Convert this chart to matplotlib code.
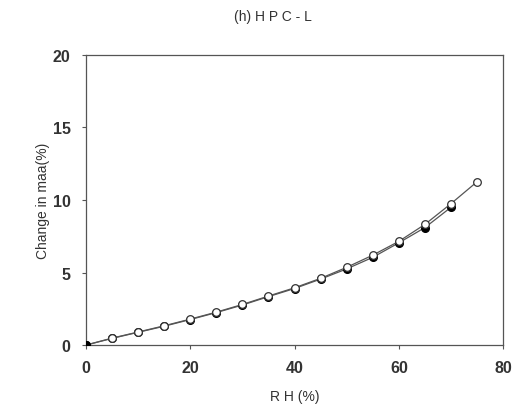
import matplotlib
matplotlib.use('Agg')
import matplotlib.pyplot as plt

plt.rcParams['font.family'] = ['Liberation Sans', 'DejaVu Sans']

# relative humidity steps
rh_open = [0, 5, 10, 15, 20, 25, 30, 35, 40, 45, 50, 55, 60, 65, 70, 75]
change_open = [0.0, 0.48, 0.9, 1.33, 1.79, 2.27, 2.8, 3.38, 3.95, 4.6,
               5.36, 6.2, 7.15, 8.32, 9.75, 11.26]

rh_filled = [0, 5, 10, 15, 20, 25, 30, 35, 40, 45, 50, 55, 60, 65, 70]
change_filled = [0.0, 0.46, 0.88, 1.3, 1.76, 2.24, 2.76, 3.34, 3.9, 4.55,
                 5.25, 6.05, 7.05, 8.1, 9.5]

fig = plt.figure(figsize=(5.14, 4.14), dpi=100)
ax = fig.add_axes([0.167, 0.164, 0.812, 0.701])

ax.plot(rh_filled, change_filled, '-', color='#555555', lw=0.9,
        marker='o', ms=5.5, mfc='black', mec='black', zorder=2)
ax.plot(rh_open, change_open, '-', color='#555555', lw=0.9,
        marker='o', ms=5.5, mfc='white', mec='#333333', mew=0.9, zorder=3)
# filled point at origin shows on top
ax.plot(rh_filled[:1], change_filled[:1], 'o', ms=5.5, color='black', zorder=4)

ax.set_xlim(0, 80)
ax.set_ylim(0, 20)
ax.set_xticks([0, 20, 40, 60, 80])
ax.set_yticks([0, 5, 10, 15, 20])

for s in ax.spines.values():
    s.set_color('#555555')
    s.set_linewidth(0.9)

ax.tick_params(direction='out', length=3, width=0.8, color='#555555',
               labelsize=11.5, pad=8)
for lab in ax.get_xticklabels() + ax.get_yticklabels():
    lab.set_fontweight('bold')
    lab.set_color('#333333')

ax.set_xlabel('R H (%)', fontsize=10, color='#333333', labelpad=10)
ax.set_ylabel('Change in maa(%)', fontsize=10, color='#333333', labelpad=2)
fig.text(0.531, 0.958, '(h) H P C - L', fontsize=10, color='#333333',
         ha='center', va='center')

fig.savefig('out.png', dpi=100)
